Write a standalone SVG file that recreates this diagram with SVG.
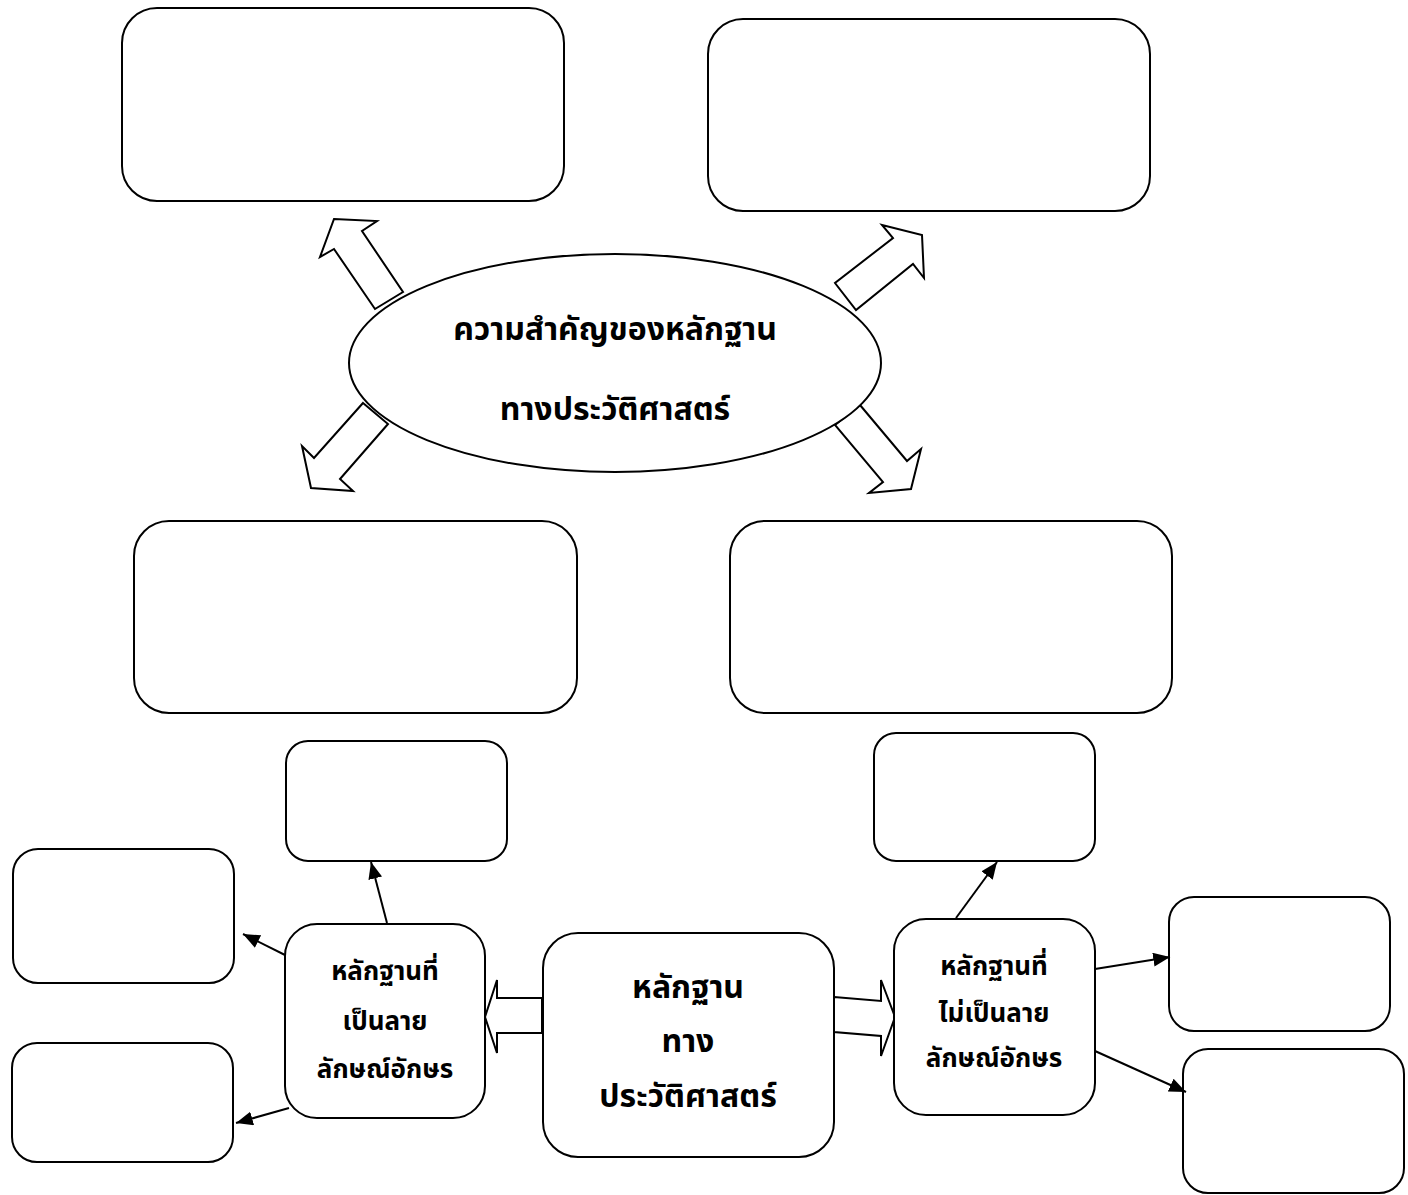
<svg xmlns="http://www.w3.org/2000/svg" width="1408" height="1195" viewBox="0 0 1408 1195">
<defs>
<style>
.box{fill:#fff;stroke:#000;stroke-width:2}
.hollow{fill:#fff;stroke:#000;stroke-width:2;stroke-linejoin:miter}
.con{stroke:#000;stroke-width:2;fill:none}
.t{font-family:"Noto Sans Thai","Noto Sans",sans-serif;font-weight:bold;fill:#000;text-anchor:middle}
.big{font-size:32px}
.small{font-size:26px}
</style>
<marker id="ah" viewBox="0 0 12 10" refX="12" refY="5" markerWidth="8.4" markerHeight="7" markerUnits="strokeWidth" orient="auto">
<path d="M0,0 L12,5 L0,10 Z" fill="#000"/>
</marker>
</defs>
<rect width="1408" height="1195" fill="#fff"/>

<g id="box-top-left"><rect class="box" x="122" y="8" width="442" height="193" rx="35" ry="35"/></g>
<g id="box-top-right"><rect class="box" x="708" y="19" width="442" height="192" rx="35" ry="35"/></g>
<g id="box-mid-left"><rect class="box" x="134" y="521" width="443" height="192" rx="35" ry="35"/></g>
<g id="box-mid-right"><rect class="box" x="730" y="521" width="442" height="192" rx="35" ry="35"/></g>
<g id="box-small-left"><rect class="box" x="286" y="741" width="221" height="120" rx="22" ry="22"/></g>
<g id="box-small-right"><rect class="box" x="874" y="733" width="221" height="128" rx="22" ry="22"/></g>
<g id="box-far-left-top"><rect class="box" x="13" y="849" width="221" height="134" rx="25" ry="25"/></g>
<g id="box-far-left-bottom"><rect class="box" x="12" y="1043" width="221" height="119" rx="25" ry="25"/></g>
<g id="box-far-right-top"><rect class="box" x="1169" y="897" width="221" height="134" rx="25" ry="25"/></g>
<g id="box-far-right-bottom"><rect class="box" x="1183" y="1049" width="221" height="144" rx="25" ry="25"/></g>

<g id="connectors">
<polygon class="hollow" points="334,219 377,221 362,231 403,292 375,309 334,249 320,257"/>
<polygon class="hollow" points="882,225 922,235 924,278 913,264 856,310 835,283 893,238"/>
<polygon class="hollow" points="363,403 388,424 340,479 353,491 311,488 302,446 314,458"/>
<polygon class="hollow" points="860,405 907,461 921,449 911,489 869,493 883,482 835,425"/>
<polygon class="hollow" points="542,998 497,998 497,980 485,1017 497,1053 497,1033 542,1033"/>
<polygon class="hollow" points="834,997 881,1001 881,980 895,1017 881,1056 881,1036 834,1032"/>
<line class="con" x1="387" y1="923" x2="371" y2="862" marker-end="url(#ah)"/>
<line class="con" x1="956" y1="918" x2="997" y2="862" marker-end="url(#ah)"/>
<line class="con" x1="285" y1="955" x2="243" y2="934" marker-end="url(#ah)"/>
<line class="con" x1="289" y1="1108" x2="236" y2="1123" marker-end="url(#ah)"/>
<line class="con" x1="1095" y1="969" x2="1170" y2="957" marker-end="url(#ah)"/>
<line class="con" x1="1095" y1="1051" x2="1186" y2="1092" marker-end="url(#ah)"/>
</g>

<g id="node-importance">
<ellipse class="box" cx="615" cy="363" rx="266" ry="109"/>
<text class="t big" x="615" y="340">ความสำคัญของหลักฐาน</text>
<text class="t big" x="615" y="420">ทางประวัติศาสตร์</text>
</g>

<g id="node-written">
<rect class="box" x="285" y="924" width="200" height="194" rx="32" ry="32"/>
<text class="t small" x="385" y="980">หลักฐานที่</text>
<text class="t small" x="385" y="1030">เป็นลาย</text>
<text class="t small" x="385" y="1078">ลักษณ์อักษร</text>
</g>

<g id="node-evidence">
<rect class="box" x="543" y="933" width="291" height="224" rx="35" ry="35"/>
<text class="t big" x="688" y="998">หลักฐาน</text>
<text class="t big" x="688" y="1052">ทาง</text>
<text class="t big" x="688" y="1107">ประวัติศาสตร์</text>
</g>

<g id="node-unwritten">
<rect class="box" x="894" y="919" width="201" height="196" rx="32" ry="32"/>
<text class="t small" x="994" y="975">หลักฐานที่</text>
<text class="t small" x="994" y="1022">ไม่เป็นลาย</text>
<text class="t small" x="994" y="1067">ลักษณ์อักษร</text>
</g>
</svg>
